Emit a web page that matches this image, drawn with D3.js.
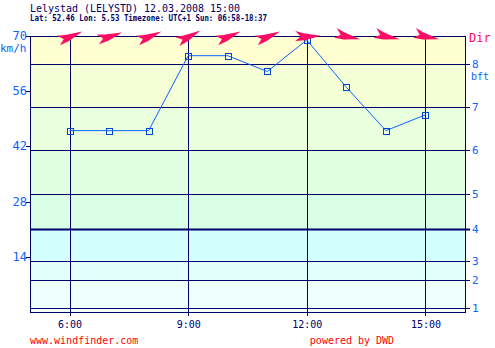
<!DOCTYPE html>
<html>
<head>
<meta charset="utf-8">
<script src="https://cdn.jsdelivr.net/npm/d3@7"></script>
<style>
  html, body { margin: 0; padding: 0; background: #fff; }
  svg { display: block; }
  text { font-family: "DejaVu Sans Mono", monospace; }
</style>
</head>
<body>
<svg id="chart" width="495" height="348"></svg>
<script>
// Forecast hours (local time) and wind data
const hours = [6, 7, 8, 9, 10, 11, 12, 13, 14, 15];
const speedKmh = [46, 46, 46, 65, 65, 61, 69, 57, 46, 50];
// Direction the wind comes from, degrees
const windDir = [245, 250, 245, 240, 245, 245, 265, 280, 280, 280];

// Beaufort scale boundaries (km/h) and band fills
const bftLevels = [1, 2, 3, 4, 5, 6, 7, 8];
const bftKmh = [1, 8, 13, 21, 30, 41, 52, 63];
const bandColors = ["#f4ffff", "#eefffe", "#e2fffe", "#d4ffff", "#d8ffe6", "#e0ffe2", "#eaffdd", "#f4ffd6", "#ffffd2"];

const kmhTicks = [14, 28, 42, 56, 70];
const hourTicks = [6, 9, 12, 15];

const W = 495, H = 348;
const m = { left: 30, right: 465, top: 36, bottom: 312 };

const svg = d3.select("#chart");
const x = d3.scaleLinear().domain([5, 16]).range([m.left, m.right]);
const y = d3.scaleLinear().domain([0, 70]).range([m.bottom, m.top]);

const navy = "#000066";
const blue = "#0a64ff";
const pink = "#ff0a64";

// Header
svg.append("text").attr("x", 30).attr("y", 12)
  .attr("font-size", 11).attr("fill", navy)
  .attr("textLength", 210).attr("lengthAdjust", "spacingAndGlyphs")
  .text("Lelystad (LELYSTD) 12.03.2008 15:00");
svg.append("text").attr("x", 30).attr("y", 21)
  .attr("font-size", 8).attr("font-weight", "bold").attr("fill", navy)
  .attr("textLength", 237).attr("lengthAdjust", "spacingAndGlyphs")
  .text("Lat: 52.46 Lon: 5.53 Timezone: UTC+1 Sun: 06:58-18:37");

// Beaufort bands
const edges = [0, ...bftKmh, 70];
svg.append("g").selectAll("rect").data(bandColors).join("rect")
  .attr("x", m.left).attr("width", m.right - m.left)
  .attr("y", (d, i) => y(edges[i + 1]))
  .attr("height", (d, i) => y(edges[i]) - y(edges[i + 1]))
  .attr("fill", d => d);

// Beaufort boundary lines
svg.append("g").selectAll("line").data(bftKmh).join("line")
  .attr("x1", m.left).attr("x2", m.right + 5)
  .attr("y1", d => Math.round(y(d)) + 0.5).attr("y2", d => Math.round(y(d)) + 0.5)
  .attr("stroke", navy)
  .attr("stroke-width", (d, i) => bftLevels[i] === 4 ? 2 : 1);

// Hour grid lines
svg.append("g").selectAll("line").data(hourTicks).join("line")
  .attr("x1", d => Math.round(x(d)) + 0.5).attr("x2", d => Math.round(x(d)) + 0.5)
  .attr("y1", m.top).attr("y2", m.bottom + 4)
  .attr("stroke", navy);

// Plot frame
svg.append("rect")
  .attr("x", m.left + 0.5).attr("y", m.top + 0.5)
  .attr("width", m.right - m.left).attr("height", m.bottom - m.top)
  .attr("fill", "none").attr("stroke", navy);

// Left km/h axis
const left = svg.append("g");
left.selectAll("line").data(kmhTicks).join("line")
  .attr("x1", m.left - 4).attr("x2", m.left)
  .attr("y1", d => Math.round(y(d)) + 0.5).attr("y2", d => Math.round(y(d)) + 0.5)
  .attr("stroke", navy);
left.selectAll("text").data(kmhTicks).join("text")
  .attr("x", m.left - 3).attr("y", d => y(d) + 4)
  .attr("text-anchor", "end").attr("font-size", 12).attr("fill", blue)
  .text(d => d);
svg.append("text").attr("x", 0).attr("y", 52)
  .attr("font-size", 11).attr("fill", blue).text("km/h");

// Right Beaufort axis
const right = svg.append("g");
right.selectAll("text").data(bftKmh).join("text")
  .attr("x", m.right + 7).attr("y", d => y(d) + 4)
  .attr("font-size", 11).attr("fill", blue)
  .text((d, i) => bftLevels[i]);
svg.append("text").attr("x", 471).attr("y", 80)
  .attr("font-size", 10).attr("fill", blue).text("bft");
svg.append("text").attr("x", 469).attr("y", 42)
  .attr("font-size", 12).attr("fill", pink).text("Dir");

// Hour labels
svg.append("g").selectAll("text").data(hourTicks).join("text")
  .attr("x", d => x(d) + 0.5).attr("y", 328)
  .attr("text-anchor", "middle").attr("font-size", 10).attr("fill", navy)
  .text(d => d + ":00");

// Wind speed line
const pts = hours.map((h, i) => [x(h), y(speedKmh[i])]);
svg.append("path")
  .attr("d", d3.line()(pts))
  .attr("fill", "none").attr("stroke", blue).attr("stroke-width", 1);
svg.append("g").selectAll("rect").data(pts).join("rect")
  .attr("x", d => Math.round(d[0]) - 2.5).attr("y", d => Math.round(d[1]) - 2.5)
  .attr("width", 6).attr("height", 6)
  .attr("fill", "none").attr("stroke", "#0046d0").attr("stroke-width", 1);

// Direction arrows along the top edge
const arrowShape = "M13,0 L-4,-4 L-12,-7 L-7,-1 L-13,3 L-3,3 Z";
svg.append("g").selectAll("path").data(hours).join("path")
  .attr("d", arrowShape)
  .attr("fill", pink)
  .attr("transform", (h, i) => `translate(${x(h) + 1},${m.top + 1}) rotate(${windDir[i] + 90})`);

// Footer
svg.append("text").attr("x", 30).attr("y", 344)
  .attr("font-size", 10).attr("fill", "#ff0000").text("www.windfinder.com");
svg.append("text").attr("x", 352).attr("y", 344)
  .attr("text-anchor", "middle").attr("font-size", 10).attr("fill", "#ff0000").text("powered by DWD");
</script>
</body>
</html>
